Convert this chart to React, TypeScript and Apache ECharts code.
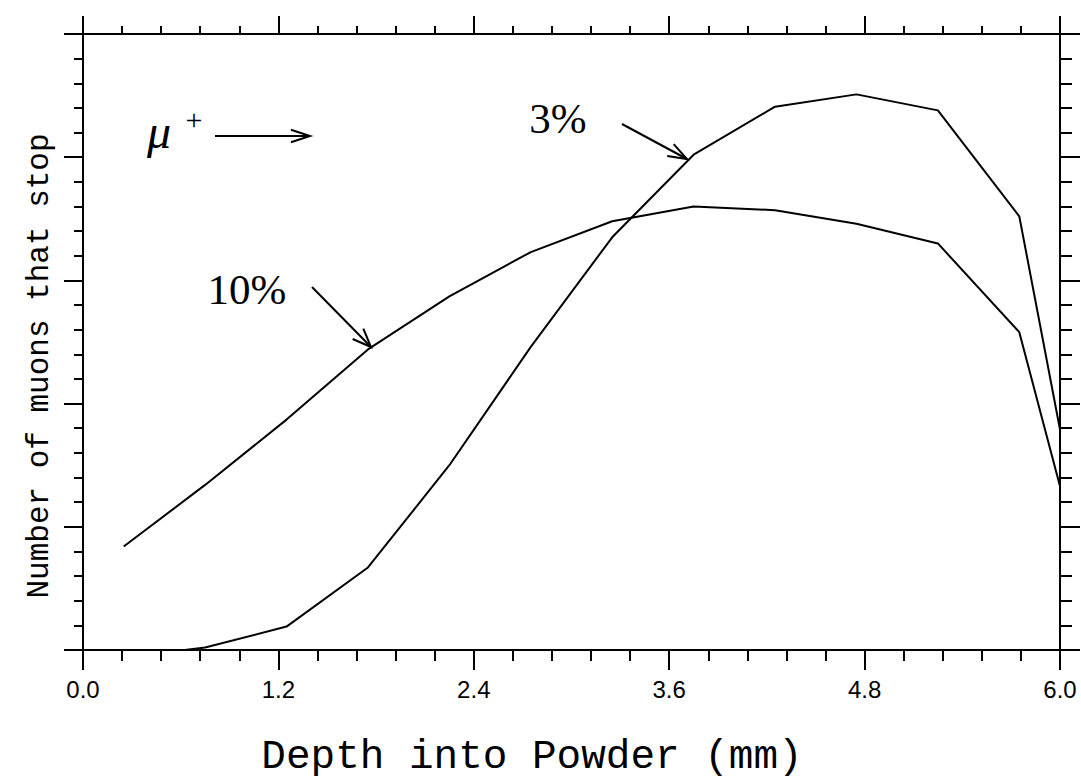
import React, { useEffect, useRef } from "react";
import * as echarts from "echarts";

// Depth (mm) of each computed point and relative number of stopping muons
const depth10 = [0.25, 0.75, 1.25, 1.75, 2.25, 2.75, 3.25, 3.75, 4.25, 4.75, 5.25, 5.75, 6.0];
const stop10 = [0.84, 1.34, 1.87, 2.44, 2.87, 3.23, 3.48, 3.6, 3.57, 3.46, 3.3, 2.58, 1.33];

const depth3 = [0.375, 0.625, 0.75, 1.25, 1.75, 2.25, 2.75, 3.25, 3.75, 4.25, 4.75, 5.25, 5.75, 6.0];
const stop3 = [0.0, 0.0, 0.02, 0.19, 0.67, 1.5, 2.46, 3.35, 4.02, 4.41, 4.51, 4.38, 3.52, 1.79];

const xTickLabels = ["0.0", "1.2", "2.4", "3.6", "4.8", "6.0"];
const xMin = 0;
const xMax = 6;
const xStep = 1.2;
const yMin = 0;
const yMax = 5;
const yStep = 1;

const seriesNames = ["10%", "3%"];
const xTitle = "Depth into Powder (mm)";
const yTitle = "Number of muons that stop";

const MONO = "'Liberation Mono', 'Courier New', Courier, monospace";
const SERIF = "'Liberation Serif', 'Times New Roman', serif";

function arrow(x1: number, y1: number, x2: number, y2: number, len = 20, angDeg = 20) {
  const a = Math.atan2(y1 - y2, x1 - x2);
  const d = (angDeg * Math.PI) / 180;
  const p1 = [x2 + len * Math.cos(a + d), y2 + len * Math.sin(a + d)];
  const p2 = [x2 + len * Math.cos(a - d), y2 + len * Math.sin(a - d)];
  return [
    { type: "line", shape: { x1, y1, x2, y2 }, style: { stroke: "#000", lineWidth: 2 } },
    {
      type: "polyline",
      shape: { points: [p1, [x2, y2], p2] },
      style: { stroke: "#000", fill: null, lineWidth: 2 },
    },
  ];
}

function txt(text: string, x: number, y: number, font: string, extra: any = {}) {
  return {
    type: "text",
    x,
    y,
    ...extra,
    style: {
      text,
      font,
      fill: "#000",
      align: "center",
      verticalAlign: "middle",
      textAlign: "center",
      textVerticalAlign: "middle",
    },
  };
}

export default function App() {
  const ref = useRef<HTMLDivElement>(null);

  useEffect(() => {
    if (!ref.current) return;
    const chart = echarts.init(ref.current, null, { renderer: "svg" });

    const axisLine = { show: true, onZero: false, lineStyle: { color: "#000", width: 2 } };
    const tickStyle = { color: "#000", width: 2 };

    const xCommon = {
      type: "value",
      min: xMin,
      max: xMax,
      interval: xStep,
      splitLine: { show: false },
      minorSplitLine: { show: false },
      axisLine,
    };
    const yCommon = {
      type: "value",
      min: yMin,
      max: yMax,
      interval: yStep,
      splitLine: { show: false },
      minorSplitLine: { show: false },
      axisLine,
      axisLabel: { show: false },
    };

    const option: any = {
      animation: false,
      backgroundColor: "#fff",
      grid: { left: 83, right: 21, top: 34, bottom: 132, containLabel: false },
      xAxis: [
        {
          ...xCommon,
          position: "bottom",
          axisTick: { show: true, inside: false, length: 20, lineStyle: tickStyle },
          minorTick: { show: true, splitNumber: 5, length: 11, lineStyle: tickStyle },
          axisLabel: {
            show: true,
            margin: 27,
            color: "#000",
            fontSize: 24,
            fontFamily: "'Liberation Sans', Arial, sans-serif",
            formatter: (v: number) => {
              const i = Math.round((v - xMin) / xStep);
              return xTickLabels[i] ?? v.toFixed(1);
            },
          },
        },
        {
          ...xCommon,
          position: "top",
          axisTick: { show: true, inside: false, length: 18, lineStyle: tickStyle },
          minorTick: { show: true, splitNumber: 5, length: 8, lineStyle: tickStyle },
          axisLabel: { show: false },
        },
      ],
      yAxis: [
        {
          ...yCommon,
          position: "left",
          axisTick: { show: true, inside: false, length: 19, lineStyle: tickStyle },
          minorTick: { show: true, splitNumber: 5, length: 9, lineStyle: tickStyle },
        },
        {
          ...yCommon,
          position: "right",
          axisTick: { show: true, inside: false, length: 20, lineStyle: tickStyle },
          minorTick: { show: true, splitNumber: 5, length: 12, lineStyle: tickStyle },
        },
      ],
      series: [
        {
          name: seriesNames[0],
          type: "line",
          xAxisIndex: 0,
          yAxisIndex: 0,
          data: depth10.map((d, i) => [d, stop10[i]]),
          symbol: "none",
          lineStyle: { color: "#000", width: 2 },
          clip: false,
        },
        {
          name: seriesNames[1],
          type: "line",
          xAxisIndex: 0,
          yAxisIndex: 0,
          data: depth3.map((d, i) => [d, stop3[i]]),
          symbol: "none",
          lineStyle: { color: "#000", width: 2 },
          clip: false,
        },
      ],
      graphic: [
        txt(xTitle, 532, 757, `41px ${MONO}`),
        txt(yTitle, 39, 366, `31px ${MONO}`, { rotation: Math.PI / 2 }),
        txt("\u03bc", 159, 131, `italic 48px ${SERIF}`),
        txt("+", 194, 119, `30px ${SERIF}`),
        ...arrow(215, 136, 310, 136, 20, 18),
        txt(seriesNames[0], 247, 289, `43px ${SERIF}`),
        ...arrow(312, 287, 371, 347, 20, 22),
        txt(seriesNames[1], 558, 118, `43px ${SERIF}`),
        ...arrow(622, 124, 687, 159, 20, 20),
      ],
    };

    chart.setOption(option);
    return () => chart.dispose();
  }, []);

  return (
    <div
      ref={ref}
      style={{ position: "fixed", left: 0, top: 0, width: 1081, height: 782, background: "#fff" }}
    />
  );
}
